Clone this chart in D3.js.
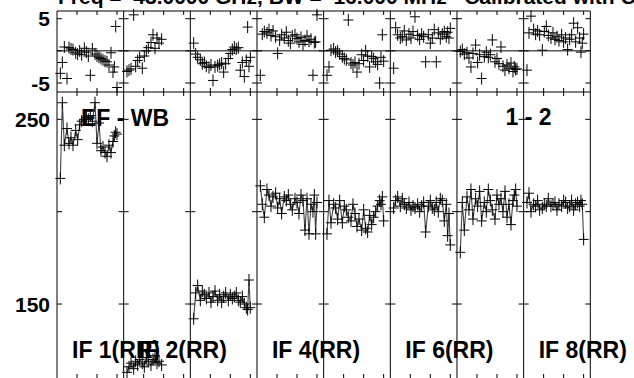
<!DOCTYPE html>
<meta charset="utf-8">
<script src="https://d3js.org/d3.v7.min.js"></script>
<style>
  body { margin: 0; background: #fff; }
  text { font-family: "Liberation Sans", Arial, sans-serif; font-weight: bold; fill: #000; }
</style>
<body>
<div id="chart"></div>
<script>
  // scan times (same grid for every IF), in hours from start
  const times = [0.5, 0.8, 1.1, 1.5, 1.8, 2.1, 2.4, 2.8, 3.1, 3.4, 3.7, 4.1, 4.4, 4.7, 5.0,
                 5.3, 5.7, 6.0, 6.3, 6.6, 6.9, 7.2, 7.5, 7.8, 8.1, 8.4, 8.6, 8.8, 9.0];

  // amplitude per IF
  const ampIF1 = [218, 259, 236, 245, 237, 240, 236, 244, 239, 247, 249, 250, 251, 250, 252, 249, 259, 237, 248, 233, 235, 232, 230, 236, 232, 238, 241, 243, 242];
  const ampIF2 = [113, 116, 118, 115, 119, 117, 120, 118, 116, 121, 119, 117, 120, 122, 118, 119, 117, null, null, null, null, null, null, null, null, null, null, null, null];
  const ampIF3 = [142, 156, 160, 152, 157, 155, 153, 156, 151, 154, 157, 152, 155, 151, 154, 156, 152, 155, 153, 154, 156, 152, 151, 154, 150, 148, 147, 163, 148];
  const ampIF4 = [214, 204, 197, 212, 209, 203, 208, 210, 202, 207, 199, 208, 206, 209, 204, 201, 207, 205, 199, 209, 206, 190, 207, 188, 204, 200, 209, 188, 205];
  const ampIF5 = [188, 206, 194, 204, 202, 196, 206, 194, 203, 201, 197, 195, 204, 199, 192, 196, 190, 201, 191, 189, 198, 193, 197, 200, 203, 206, 204, 208, 195];
  const ampIF6 = [202, 206, 208, 203, 207, 204, 202, 205, 201, 203, 202, 204, 200, 203, 205, 189, 203, 206, 202, 201, 205, 200, 207, 206, 195, 204, 187, 199, 182];
  const ampIF7 = [178, 205, 190, 208, 201, 212, 196, 207, 203, 211, 195, 205, 200, 212, 206, 201, 196, 209, 204, 207, 200, 211, 197, 204, 193, 206, 209, 212, 203];
  const ampIF8 = [205, 210, 200, 204, 203, 206, 201, 202, 204, 203, 207, 203, 204, 205, 201, 204, 203, 206, 205, 202, 203, 206, 201, 204, 205, 203, 206, 204, 185];

  // phase (degrees) per IF
  const phsIF1 = [-3.5, -1.8, 0.6, -4.3, 0.5, 0.3, 0.2, -0.3, -0.5, 0.0, -0.6, 0.4, -0.2, -0.8, -3.8, 0.3, -0.5, -0.8, -1.0, -1.2, -1.4, -1.6, -1.7, -2.2, -0.3, -3.3, -2.5, 3.8, -5.7];
  const phsIF2 = [-3.2, -3.0, -2.8, 5.6, -2.4, -1.5, -1.0, -2.7, -0.8, 0.0, 0.5, 1.3, 2.5, 0.4, 2.0, 1.2, 1.8, null, null, null, null, null, null, null, null, null, null, null, null];
  const phsIF3 = [1.2, -0.5, -1.0, -1.4, -2.0, -1.8, -2.4, -2.6, -2.2, -4.6, -2.5, -2.3, -2.1, -1.9, -3.3, -2.0, -1.2, -0.4, 0.2, 0.6, 0.3, 0.5, -3.0, -1.8, -4.0, -1.5, 3.7, -2.4, -1.0];
  const phsIF4 = [-3.8, 2.6, 3.0, 2.8, 3.3, 2.4, 3.1, 2.2, -0.4, 1.7, 2.5, 2.0, 2.9, 1.6, 1.2, 2.3, 2.5, 1.9, 1.4, 2.1, 1.0, 1.6, 2.3, 1.5, 1.8, -3.8, 1.3, 1.4, 5.6];
  const phsIF5 = [-3.8, -2.5, 0.1, 0.3, -0.2, 0.0, -0.5, -0.9, -1.2, -1.4, 4.8, -1.9, -2.2, -1.8, -3.3, -2.0, -0.6, -1.5, 0.0, -0.8, -2.5, -0.9, -1.2, -1.7, -2.1, -5.0, -1.0, 2.5, -1.6];
  const phsIF6 = [-2.7, 3.6, 2.5, 2.0, 2.2, 3.1, 1.7, 2.6, 2.0, 3.0, 5.3, 2.4, 1.8, 2.6, 2.2, -1.7, 2.5, 1.2, 2.0, 3.3, -1.7, 2.8, 1.9, 2.6, 3.0, 2.2, 2.9, 2.0, 3.5];
  const phsIF7 = [-0.1, 0.2, -0.5, -0.3, -1.1, -2.5, -0.4, 0.9, -1.8, -0.6, -4.3, -0.9, -0.2, -1.0, -0.6, 1.7, -1.7, -1.2, -2.0, 0.6, -2.4, -3.0, -2.2, -2.7, -1.9, -3.2, -2.5, -2.9, -2.8];
  const phsIF8 = [-3.0, 2.8, 5.4, 3.3, 2.6, 3.1, 2.5, 0.1, 3.0, 3.8, 2.4, 2.0, 2.8, 1.8, 2.2, 1.6, 2.5, 1.4, 2.0, 0.2, 1.8, 2.5, 4.3, 1.4, 3.6, 2.0, -0.2, 1.2, 2.6];

  const amps = [ampIF1, ampIF2, ampIF3, ampIF4, ampIF5, ampIF6, ampIF7, ampIF8];
  const phases = [phsIF1, phsIF2, phsIF3, phsIF4, phsIF5, phsIF6, phsIF7, phsIF8];
  const ifLabels = ["IF 1(RR)", "IF 2(RR)", null, "IF 4(RR)", null, "IF 6(RR)", null, "IF 8(RR)"];
  const timeTicks = [3, 6, 9];
  const phsTicks = [-5, 0, 5];
  const ampTicks = [150, 200, 250];
  const phsLabels = [5, -5];
  const ampLabels = [250, 150];

  const width = 634, height = 378;
  const svg = d3.select("#chart").append("svg")
    .attr("width", width).attr("height", height);

  const xPanel = d3.scaleBand().domain(d3.range(8)).range([57, 590.3]);
  const xTime = d3.scaleLinear().domain([0, 10]).range([0, xPanel.bandwidth()]);
  const yPhs = d3.scaleLinear().domain([-6.4, 6.2]).range([92, 11]);
  const yAmp = d3.scaleLinear().domain([109.4, 264.8]).range([379, 92]);

  // title (mostly cut off at the top)
  svg.append("text")
    .attr("x", 58).attr("y", 4)
    .attr("font-size", 21)
    .attr("xml:space", "preserve")
    .text("Freq =  43.0000 GHz, BW =  16.000 MHz   Calibrated with CL 1");

  // y labels
  svg.selectAll(".phl").data(phsLabels).join("text")
    .attr("x", 50).attr("y", d => yPhs(d) + 7.5)
    .attr("text-anchor", "end").attr("font-size", 21)
    .text(d => d);
  svg.selectAll(".aml").data(ampLabels).join("text")
    .attr("x", 50).attr("y", d => yAmp(d) + 7.5)
    .attr("text-anchor", "end").attr("font-size", 21)
    .text(d => d);

  // panel labels
  svg.append("text").attr("x", 81).attr("y", 125.5).attr("font-size", 23).text("EF - WB");
  svg.append("text").attr("x", 505.5).attr("y", 125).attr("font-size", 23).text("1 - 2");
  ifLabels.forEach((lab, i) => {
    if (!lab) return;
    svg.append("text").attr("x", xPanel(i) + 15).attr("y", 358)
      .attr("font-size", 23).text(lab);
  });

  // frame
  const frame = svg.append("g").attr("stroke", "#000").attr("stroke-width", 1).attr("fill", "none");
  const x0 = xPanel.range()[0], x1 = xPanel.range()[1];
  [11, 92, 379].forEach(y => frame.append("line").attr("x1", x0).attr("x2", x1).attr("y1", y).attr("y2", y));
  frame.append("line").attr("x1", x0).attr("x2", x1).attr("y1", yPhs(0)).attr("y2", yPhs(0));
  d3.range(9).forEach(i => {
    const x = x0 + i * xPanel.bandwidth();
    frame.append("line").attr("x1", x).attr("x2", x).attr("y1", 11).attr("y2", 379);
    const left = i > 0 ? 5 : 0, right = i < 8 ? 5 : 0;
    phsTicks.forEach(v => frame.append("line").attr("x1", x - left).attr("x2", x + right).attr("y1", yPhs(v)).attr("y2", yPhs(v)));
    ampTicks.forEach(v => frame.append("line").attr("x1", x - left).attr("x2", x + right).attr("y1", yAmp(v)).attr("y2", yAmp(v)));
  });
  d3.range(8).forEach(i => {
    timeTicks.forEach(t => {
      const x = xPanel(i) + xTime(t);
      frame.append("line").attr("x1", x).attr("x2", x).attr("y1", 11).attr("y2", 15);
      frame.append("line").attr("x1", x).attr("x2", x).attr("y1", 88).attr("y2", 96);
      frame.append("line").attr("x1", x).attr("x2", x).attr("y1", 374).attr("y2", 379);
    });
  });

  // data
  const cross = (g, pts) => {
    g.selectAll("path.cross").data(pts).join("path")
      .attr("class", "cross")
      .attr("d", d => `M${d[0] - 5},${d[1]}h10M${d[0]},${d[1] - 6}v12`)
      .attr("stroke", "#000").attr("stroke-width", 1).attr("fill", "none");
  };

  d3.range(8).forEach(i => {
    const px = t => xPanel(i) + xTime(t);
    const ampPts = times.map((t, k) => [t, amps[i][k]]).filter(d => d[1] != null)
      .map(d => [px(d[0]), yAmp(d[1])]);
    const phsPts = times.map((t, k) => [t, phases[i][k]]).filter(d => d[1] != null)
      .map(d => [px(d[0]), yPhs(d[1])]);

    const g = svg.append("g");
    g.append("path").datum(ampPts)
      .attr("d", d3.line())
      .attr("fill", "none").attr("stroke", "#444").attr("stroke-width", 1.1);
    cross(g.append("g"), ampPts);
    cross(g.append("g"), phsPts);
  });
</script>
</body>
